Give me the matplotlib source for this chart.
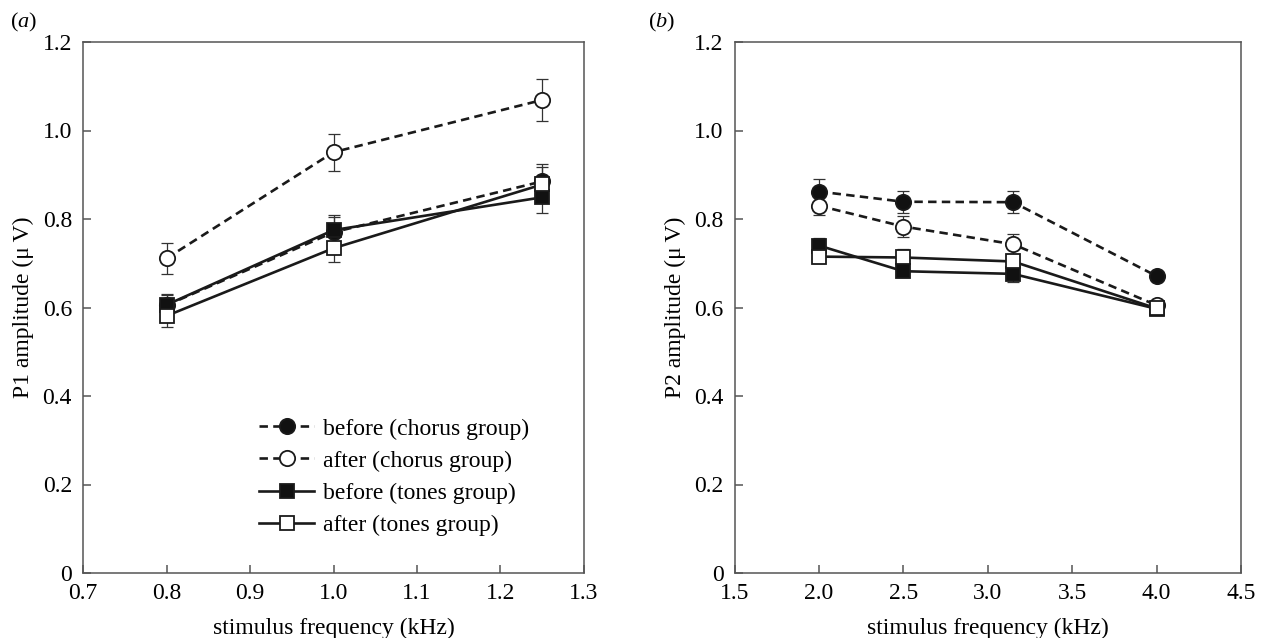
import matplotlib
matplotlib.use("Agg")
import matplotlib.pyplot as plt
from matplotlib.ticker import FuncFormatter

plt.rcParams['font.family'] = ['Liberation Serif', 'DejaVu Serif']
plt.rcParams['mathtext.fontset'] = 'custom'
plt.rcParams['mathtext.it'] = 'Liberation Serif:italic'
plt.rcParams['mathtext.rm'] = 'Liberation Serif'

# panel (a): P1 amplitude
freq_a = [0.8, 1.0, 1.25]
p1_before_chorus = [0.605, 0.770, 0.885]
p1_before_chorus_err = [0.025, 0.040, 0.040]
p1_after_chorus = [0.711, 0.951, 1.069]
p1_after_chorus_err = [0.035, 0.042, 0.048]
p1_before_tones = [0.606, 0.775, 0.849]
p1_before_tones_err = [0.022, 0.030, 0.035]
p1_after_tones = [0.581, 0.734, 0.878]
p1_after_tones_err = [0.024, 0.031, 0.040]

# panel (b): P2 amplitude
freq_b = [2.0, 2.5, 3.15, 4.0]
p2_before_chorus = [0.862, 0.839, 0.838, 0.671]
p2_before_chorus_err = [0.028, 0.025, 0.025, 0.010]
p2_after_chorus = [0.830, 0.783, 0.743, 0.605]
p2_after_chorus_err = [0.020, 0.024, 0.023, 0.010]
p2_before_tones = [0.740, 0.682, 0.676, 0.597]
p2_before_tones_err = [0.017, 0.012, 0.018, 0.010]
p2_after_tones = [0.715, 0.713, 0.704, 0.598]
p2_after_tones_err = [0.015, 0.020, 0.015, 0.012]

labels = ['before (chorus group)', 'after (chorus group)',
          'before (tones group)', 'after (tones group)']
styles = [
    dict(ls=(0, (3.2, 2.0)), marker='o', mfc='#111111', ms=11),
    dict(ls=(0, (3.2, 2.0)), marker='o', mfc='white', ms=11),
    dict(ls='-', marker='s', mfc='#111111', ms=10.5),
    dict(ls='-', marker='s', mfc='white', ms=10.5),
]

fig = plt.figure(figsize=(12.67, 6.38), dpi=100)
ax_a = fig.add_axes([83 / 1267, 1 - 573 / 638, 501 / 1267, 531 / 638])
ax_b = fig.add_axes([734.5 / 1267, 1 - 573 / 638, 506.5 / 1267, 531 / 638])

data_a = [(p1_before_chorus, p1_before_chorus_err), (p1_after_chorus, p1_after_chorus_err),
          (p1_before_tones, p1_before_tones_err), (p1_after_tones, p1_after_tones_err)]
data_b = [(p2_before_chorus, p2_before_chorus_err), (p2_after_chorus, p2_after_chorus_err),
          (p2_before_tones, p2_before_tones_err), (p2_after_tones, p2_after_tones_err)]


def draw(ax, freq, data, add_labels):
    handles = []
    for (vals, errs), st, lab in zip(data, styles, labels):
        ax.errorbar(freq, vals, yerr=errs, fmt='none', ecolor='#333333',
                    elinewidth=0.9, capsize=4, capthick=0.9, zorder=2)
        h, = ax.plot(freq, vals, color='#1a1a1a', lw=1.9, ls=st['ls'],
                     marker=st['marker'], ms=st['ms'], mfc=st['mfc'],
                     mec='#1a1a1a', mew=1.3, zorder=3,
                     label=lab if add_labels else None)
        handles.append(h)
    return handles


def fmt_y(v, pos):
    return '0' if abs(v) < 1e-9 else '%.1f' % v


def style_axes(ax):
    for s in ax.spines.values():
        s.set_color('#555555')
        s.set_linewidth(1.1)
    ax.tick_params(direction='in', length=6, width=1.1, color='#555555',
                   labelsize=17)
    ax.tick_params(axis='x', pad=7)
    ax.tick_params(axis='y', pad=8)
    ax.set_ylim(0, 1.2)
    ax.set_yticks([0, 0.2, 0.4, 0.6, 0.8, 1.0, 1.2])
    ax.yaxis.set_major_formatter(FuncFormatter(fmt_y))
    ax.set_xlabel('stimulus frequency (kHz)', fontsize=17, labelpad=10)


handles = draw(ax_a, freq_a, data_a, True)
draw(ax_b, freq_b, data_b, False)

style_axes(ax_a)
ax_a.set_xlim(0.7, 1.3)
ax_a.set_xticks([0.7, 0.8, 0.9, 1.0, 1.1, 1.2, 1.3])
ax_a.xaxis.set_major_formatter(FuncFormatter(lambda v, p: '%.1f' % v))
ax_a.set_ylabel('P1 amplitude (\u03bc\u2009V)', fontsize=17, labelpad=6)

style_axes(ax_b)
ax_b.set_xlim(1.5, 4.5)
ax_b.set_xticks([1.5, 2.0, 2.5, 3.0, 3.5, 4.0, 4.5])
ax_b.xaxis.set_major_formatter(FuncFormatter(lambda v, p: '%.1f' % v))
ax_b.set_ylabel('P2 amplitude (\u03bc\u2009V)', fontsize=17, labelpad=6)

ax_a.legend(handles=handles, loc='lower right', bbox_to_anchor=(0.919, 0.043),
            frameon=False, fontsize=17, handlelength=2.3, handletextpad=0.4,
            labelspacing=0.45, borderaxespad=0.2)

fig.text(10 / 1267, 1 - 22 / 638, '($\\mathit{a}$)', fontsize=16, va='center')
fig.text(648 / 1267, 1 - 22 / 638, '($\\mathit{b}$)', fontsize=16, va='center')

fig.savefig('out.png', dpi=100)
